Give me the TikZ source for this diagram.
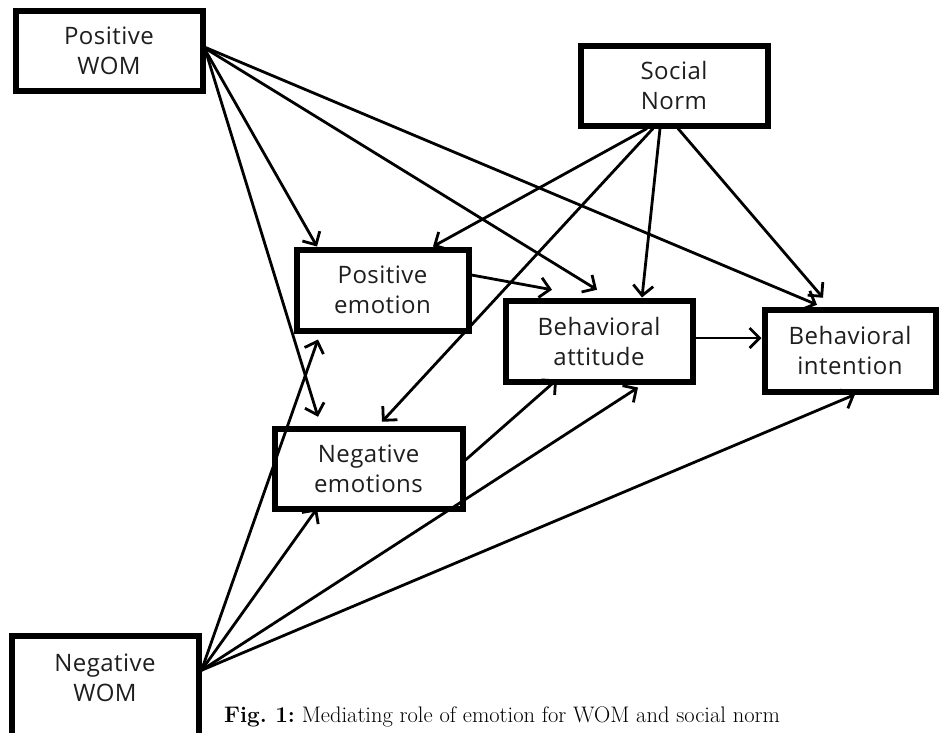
\documentclass[tikz,border=0pt]{standalone}
\usepackage{fontspec}
\newfontfamily\boxfont[LetterSpace=2]{Open Sans}
\usetikzlibrary{arrows.meta}
\definecolor{txt}{HTML}{1E1E1E}
\begin{document}
\begin{tikzpicture}[x=1pt,y=-1pt,
  box/.style={draw=black, line width=6pt, fill=white, inner sep=0pt, align=center,
    font=\boxfont\fontsize{24}{30}\selectfont, text=txt},
  lbl/.style={inner sep=0pt, align=center, font=\boxfont\fontsize{24}{30}\selectfont, text=txt},
  conn/.style={line width=2.8pt, -{Straight Barb[length=10pt,width=20pt]}}]
\useasboundingbox (0,0) rectangle (940,732);
\clip (0,0) rectangle (940,732);
\fill[white] (0,0) rectangle (940,732);

\node[box, minimum width=187pt, minimum height=80pt] (pw) at (109,50.5) {Positive\\WOM};
\node[box, minimum width=187pt, minimum height=80pt] (sn) at (674,85.5) {Social\\Norm};
\node[box, minimum width=172pt, minimum height=81pt] (pe) at (382.5,290) {Positive\\emotion};
\node[box, minimum width=187pt, minimum height=81pt] (ba) at (599,341) {Behavioral\\attitude};
\node[box, minimum width=171pt, minimum height=82pt] (bi) at (850,350.5) {Behavioral\\intention};
\node[box, minimum width=188pt, minimum height=80pt] (ne) at (368.5,468.5) {Negative\\emotions};
\node[box, minimum width=187pt, minimum height=110pt] (nw) at (105,690.75) {};
\node[lbl] (nwt) at (105,678) {Negative\\WOM};

\coordinate (pwo) at (pw.east);
\coordinate (nwo) at ([yshift=20.5pt]nw.east);

% Positive WOM
\draw[conn] (pwo) -- ([xshift=-65.5pt]pe.north);
\draw[conn] (pwo) -- ([xshift=-50.5pt,yshift=8.75pt]ne.north);
\draw[conn] ([yshift=2pt]pwo) -- ([xshift=-2pt,yshift=7.75pt]ba.north);
\draw[conn] ([yshift=3pt]pwo) -- ([xshift=-33pt,yshift=1.75pt]bi.north);
% Social norm
\draw[conn] ([xshift=-27pt]sn.south) -- ([xshift=50.5pt]pe.north);
\draw[conn] ([xshift=-21pt]sn.south) -- ([xshift=13.5pt,yshift=3.75pt]ne.north);
\draw[conn] ([xshift=-14pt]sn.south) -- ([xshift=43pt]ba.north);
\draw[conn] ([xshift=4pt]sn.south) -- ([xshift=-27pt,yshift=8.75pt]bi.north);
% emotions / attitude
\draw[conn] ([yshift=15pt]pe.east) -- ([xshift=-47pt,yshift=7.75pt]ba.north);
\draw[conn] ([yshift=3pt]ba.east) -- ([yshift=3pt]ba.east -| bi.west);
\draw[conn] ([yshift=8.5pt]ne.east) -- ([xshift=-42pt,yshift=5pt]ba.south);
% Negative WOM
\draw[conn] (nwo) -- ([xshift=-64.5pt,yshift=-6pt]pe.south);
\draw[conn] (nwo) -- ([xshift=-51.5pt,yshift=3pt]ne.south);
\draw[conn] (nwo) -- ([xshift=39pt,yshift=-3pt]ba.south);
\draw[conn] (nwo) -- ([xshift=5pt]bi.south);

\node[anchor=base west, inner sep=0pt, font=\fontsize{22.5}{27}\selectfont\frenchspacing] (cap) at (224,722)
  {\textbf{Fig. 1:} Mediating role of emotion for WOM and social norm};
\end{tikzpicture}
\end{document}
